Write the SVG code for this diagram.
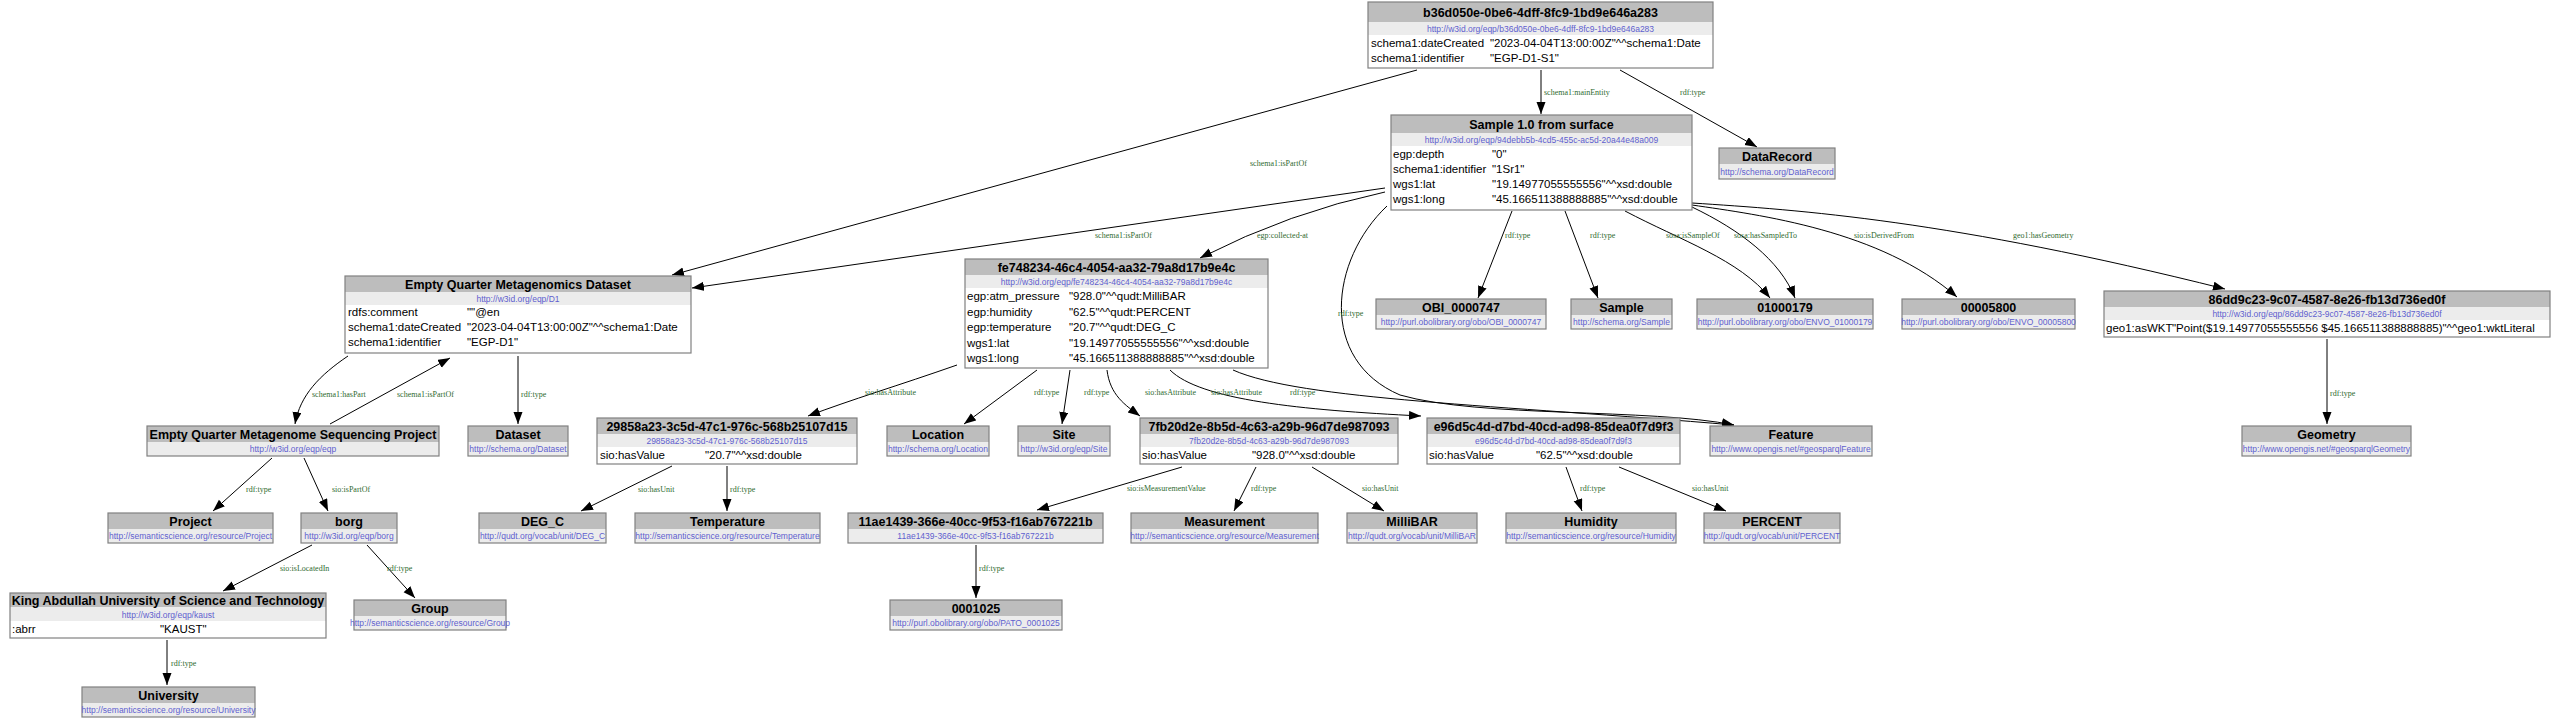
<svg xmlns="http://www.w3.org/2000/svg" width="2560" height="724" viewBox="0 0 2560 724">
<defs>
<marker id="ah" markerUnits="userSpaceOnUse" markerWidth="13" markerHeight="10" refX="12" refY="4.5" orient="auto">
<path d="M0,0 L12,4.5 L0,9 z" fill="#000"/>
</marker>
<style>
.hd{fill:#bdbdbd}
.ur{fill:#ececec}
.bd{fill:#ffffff}
.bx{fill:none;stroke:#808080;stroke-width:1.2}
.t{font-family:"Liberation Sans",Arial,sans-serif;font-weight:bold;font-size:12.5px;fill:#000;text-anchor:middle}
.u{font-family:"Liberation Sans",Arial,sans-serif;font-size:8.5px;fill:#5f5fcf;text-anchor:middle}
.r{font-family:"Liberation Sans",Arial,sans-serif;font-size:11.5px;fill:#000}
.e{fill:none;stroke:#000;stroke-width:1;marker-end:url(#ah)}
.l{font-family:"Liberation Serif","Times New Roman",serif;font-size:8px;fill:#2f6a2f}
</style>
</defs>
<rect width="2560" height="724" fill="#ffffff"/>

<g id="connectors">
<path class="e" d="M1417,70 L672,275"/>
<text class="l" x="1250" y="166">schema1:isPartOf</text>
<path class="e" d="M1541,70 L1541,114"/>
<text class="l" x="1544" y="95">schema1:mainEntity</text>
<path class="e" d="M1620,70 L1757,147"/>
<text class="l" x="1680" y="95">rdf:type</text>
<path class="e" d="M1385,188 L692,288"/>
<text class="l" x="1095" y="238">schema1:isPartOf</text>
<path class="e" d="M1385,192 Q1290,212 1200,258"/>
<text class="l" x="1257" y="238">egp:collected-at</text>
<path class="e" d="M1387,206 C1330,260 1318,360 1400,395 C1480,418 1650,408 1734,425"/>
<text class="l" x="1338" y="316">rdf:type</text>
<path class="e" d="M1512,211 L1478,298"/>
<text class="l" x="1505" y="238">rdf:type</text>
<path class="e" d="M1565,211 L1598,298"/>
<text class="l" x="1590" y="238">rdf:type</text>
<path class="e" d="M1625,211 C1680,240 1740,260 1770,298"/>
<text class="l" x="1666" y="238">sosa:isSampleOf</text>
<path class="e" d="M1692,207 C1740,230 1780,260 1795,298"/>
<text class="l" x="1734" y="238">sosa:hasSampledTo</text>
<path class="e" d="M1692,205 C1760,215 1880,230 1957,297"/>
<text class="l" x="1854" y="238">sio:isDerivedFrom</text>
<path class="e" d="M1692,203 C1800,210 1950,220 2225,289"/>
<text class="l" x="2013" y="238">geo1:hasGeometry</text>
<path class="e" d="M957,365 C900,385 850,400 808,416"/>
<text class="l" x="865" y="395">sio:hasAttribute</text>
<path class="e" d="M1037,370 L964,424"/>
<text class="l" x="1034" y="395">rdf:type</text>
<path class="e" d="M1070,370 L1062,424"/>
<text class="l" x="1084" y="395">rdf:type</text>
<path class="e" d="M1107,370 C1110,395 1125,405 1140,416"/>
<text class="l" x="1145" y="395">sio:hasAttribute</text>
<path class="e" d="M1170,370 C1200,400 1300,410 1421,416"/>
<text class="l" x="1211" y="395">sio:hasAttribute</text>
<path class="e" d="M1233,370 C1300,400 1500,405 1734,425"/>
<text class="l" x="1290" y="395">rdf:type</text>
<path class="e" d="M348,356 C320,375 300,395 295,424"/>
<text class="l" x="312" y="397">schema1:hasPart</text>
<path class="e" d="M330,424 L450,358"/>
<text class="l" x="397" y="397">schema1:isPartOf</text>
<path class="e" d="M518,356 L518,424"/>
<text class="l" x="521" y="397">rdf:type</text>
<path class="e" d="M272,458 L213,511"/>
<text class="l" x="246" y="492">rdf:type</text>
<path class="e" d="M304,458 L328,511"/>
<text class="l" x="332" y="492">sio:isPartOf</text>
<path class="e" d="M312,545 L223,591"/>
<text class="l" x="280" y="571">sio:isLocatedIn</text>
<path class="e" d="M367,545 L415,598"/>
<text class="l" x="387" y="571">rdf:type</text>
<path class="e" d="M167,640 L167,685"/>
<text class="l" x="171" y="666">rdf:type</text>
<path class="e" d="M672,466 L581,511"/>
<text class="l" x="638" y="492">sio:hasUnit</text>
<path class="e" d="M727,466 L727,511"/>
<text class="l" x="730" y="492">rdf:type</text>
<path class="e" d="M1182,467 L1037,510"/>
<text class="l" x="1127" y="491">sio:isMeasurementValue</text>
<path class="e" d="M1256,467 L1234,511"/>
<text class="l" x="1251" y="491">rdf:type</text>
<path class="e" d="M1312,467 L1384,511"/>
<text class="l" x="1362" y="491">sio:hasUnit</text>
<path class="e" d="M1566,467 L1582,511"/>
<text class="l" x="1580" y="491">rdf:type</text>
<path class="e" d="M1619,467 L1726,511"/>
<text class="l" x="1692" y="491">sio:hasUnit</text>
<path class="e" d="M976,545 L976,598"/>
<text class="l" x="979" y="571">rdf:type</text>
<path class="e" d="M2327,339 L2327,424"/>
<text class="l" x="2330" y="396">rdf:type</text>
</g>

<g id="n-b36d">
<rect class="hd" x="1368" y="2" width="345" height="20"/><rect class="ur" x="1368" y="22" width="345" height="13"/><rect class="bd" x="1368" y="35" width="345" height="33"/><rect class="bx" x="1368" y="2" width="345" height="66"/>
<text class="t" x="1540.5" y="17">b36d050e-0be6-4dff-8fc9-1bd9e646a283</text>
<text class="u" x="1540.5" y="31.5">http://w3id.org/eqp/b36d050e-0be6-4dff-8fc9-1bd9e646a283</text>
<text class="r" x="1371" y="47">schema1:dateCreated</text><text class="r" x="1490" y="47">"2023-04-04T13:00:00Z"^^schema1:Date</text>
<text class="r" x="1371" y="62">schema1:identifier</text><text class="r" x="1490" y="62">"EGP-D1-S1"</text>
</g>

<g id="n-sample">
<rect class="hd" x="1391" y="115" width="301" height="18"/><rect class="ur" x="1391" y="133" width="301" height="13"/><rect class="bd" x="1391" y="146" width="301" height="64"/><rect class="bx" x="1391" y="115" width="301" height="95"/>
<text class="t" x="1541.5" y="129">Sample 1.0 from surface</text>
<text class="u" x="1541.5" y="142.5">http://w3id.org/eqp/94debb5b-4cd5-455c-ac5d-20a44e48a009</text>
<text class="r" x="1393" y="158">egp:depth</text><text class="r" x="1492" y="158">"0"</text>
<text class="r" x="1393" y="173">schema1:identifier</text><text class="r" x="1492" y="173">"1Sr1"</text>
<text class="r" x="1393" y="188">wgs1:lat</text><text class="r" x="1492" y="188">"19.14977055555556"^^xsd:double</text>
<text class="r" x="1393" y="203">wgs1:long</text><text class="r" x="1492" y="203">"45.166511388888885"^^xsd:double</text>
</g>

<g id="n-datarecord">
<rect class="hd" x="1719" y="148" width="116" height="16"/><rect class="ur" x="1719" y="164" width="116" height="15"/><rect class="bx" x="1719" y="148" width="116" height="31"/>
<text class="t" x="1777" y="161">DataRecord</text>
<text class="u" x="1777" y="175">http://schema.org/DataRecord</text>
</g>

<g id="n-eqdataset">
<rect class="hd" x="345" y="276" width="346" height="16"/><rect class="ur" x="345" y="292" width="346" height="13"/><rect class="bd" x="345" y="305" width="346" height="48"/><rect class="bx" x="345" y="276" width="346" height="77"/>
<text class="t" x="518" y="289">Empty Quarter Metagenomics Dataset</text>
<text class="u" x="518" y="302">http://w3id.org/eqp/D1</text>
<text class="r" x="348" y="316">rdfs:comment</text><text class="r" x="467" y="316">""@en</text>
<text class="r" x="348" y="331">schema1:dateCreated</text><text class="r" x="467" y="331">"2023-04-04T13:00:00Z"^^schema1:Date</text>
<text class="r" x="348" y="346">schema1:identifier</text><text class="r" x="467" y="346">"EGP-D1"</text>
</g>

<g id="n-fe74">
<rect class="hd" x="965" y="259" width="303" height="16"/><rect class="ur" x="965" y="275" width="303" height="13"/><rect class="bd" x="965" y="288" width="303" height="80"/><rect class="bx" x="965" y="259" width="303" height="109"/>
<text class="t" x="1116.5" y="272">fe748234-46c4-4054-aa32-79a8d17b9e4c</text>
<text class="u" x="1116.5" y="285">http://w3id.org/eqp/fe748234-46c4-4054-aa32-79a8d17b9e4c</text>
<text class="r" x="967" y="300">egp:atm_pressure</text><text class="r" x="1069" y="300">"928.0"^^qudt:MilliBAR</text>
<text class="r" x="967" y="315.5">egp:humidity</text><text class="r" x="1069" y="315.5">"62.5"^^qudt:PERCENT</text>
<text class="r" x="967" y="331">egp:temperature</text><text class="r" x="1069" y="331">"20.7"^^qudt:DEG_C</text>
<text class="r" x="967" y="346.5">wgs1:lat</text><text class="r" x="1069" y="346.5">"19.14977055555556"^^xsd:double</text>
<text class="r" x="967" y="362">wgs1:long</text><text class="r" x="1069" y="362">"45.166511388888885"^^xsd:double</text>
</g>

<g id="n-obi0000747">
<rect class="hd" x="1376" y="299" width="170" height="16"/><rect class="ur" x="1376" y="315" width="170" height="14"/><rect class="bx" x="1376" y="299" width="170" height="30"/>
<text class="t" x="1461" y="312">OBI_0000747</text>
<text class="u" x="1461" y="325">http://purl.obolibrary.org/obo/OBI_0000747</text>
</g>

<g id="n-sampleclass">
<rect class="hd" x="1571" y="299" width="101" height="16"/><rect class="ur" x="1571" y="315" width="101" height="14"/><rect class="bx" x="1571" y="299" width="101" height="30"/>
<text class="t" x="1621.5" y="312">Sample</text>
<text class="u" x="1621.5" y="325">http://schema.org/Sample</text>
</g>

<g id="n-envo01000179">
<rect class="hd" x="1697" y="299" width="176" height="16"/><rect class="ur" x="1697" y="315" width="176" height="14"/><rect class="bx" x="1697" y="299" width="176" height="30"/>
<text class="t" x="1785" y="312">01000179</text>
<text class="u" x="1785" y="325">http://purl.obolibrary.org/obo/ENVO_01000179</text>
</g>

<g id="n-envo00005800">
<rect class="hd" x="1902" y="299" width="173" height="16"/><rect class="ur" x="1902" y="315" width="173" height="14"/><rect class="bx" x="1902" y="299" width="173" height="30"/>
<text class="t" x="1988.5" y="312">00005800</text>
<text class="u" x="1988.5" y="325">http://purl.obolibrary.org/obo/ENVO_00005800</text>
</g>

<g id="n-86dd">
<rect class="hd" x="2104" y="291" width="446" height="16"/><rect class="ur" x="2104" y="307" width="446" height="13"/><rect class="bd" x="2104" y="320" width="446" height="17"/><rect class="bx" x="2104" y="291" width="446" height="46"/>
<text class="t" x="2327" y="304">86dd9c23-9c07-4587-8e26-fb13d736ed0f</text>
<text class="u" x="2327" y="317">http://w3id.org/eqp/86dd9c23-9c07-4587-8e26-fb13d736ed0f</text>
<text class="r" x="2106" y="332">geo1:asWKT</text><text class="r" x="2172" y="332">"Point($19.14977055555556 $45.166511388888885)"^^geo1:wktLiteral</text>
</g>

<g id="n-eqproject">
<rect class="hd" x="147" y="426" width="292" height="16"/><rect class="ur" x="147" y="442" width="292" height="14"/><rect class="bx" x="147" y="426" width="292" height="30"/>
<text class="t" x="293" y="439">Empty Quarter Metagenome Sequencing Project</text>
<text class="u" x="293" y="452">http://w3id.org/eqp/eqp</text>
</g>

<g id="n-dataset">
<rect class="hd" x="468" y="426" width="100" height="16"/><rect class="ur" x="468" y="442" width="100" height="14"/><rect class="bx" x="468" y="426" width="100" height="30"/>
<text class="t" x="518" y="439">Dataset</text>
<text class="u" x="518" y="452">http://schema.org/Dataset</text>
</g>

<g id="n-29858">
<rect class="hd" x="597" y="418" width="260" height="16"/><rect class="ur" x="597" y="434" width="260" height="13"/><rect class="bd" x="597" y="447" width="260" height="17"/><rect class="bx" x="597" y="418" width="260" height="46"/>
<text class="t" x="727" y="431">29858a23-3c5d-47c1-976c-568b25107d15</text>
<text class="u" x="727" y="444">29858a23-3c5d-47c1-976c-568b25107d15</text>
<text class="r" x="600" y="459">sio:hasValue</text><text class="r" x="705" y="459">"20.7"^^xsd:double</text>
</g>

<g id="n-location">
<rect class="hd" x="887" y="426" width="102" height="16"/><rect class="ur" x="887" y="442" width="102" height="14"/><rect class="bx" x="887" y="426" width="102" height="30"/>
<text class="t" x="938" y="439">Location</text>
<text class="u" x="938" y="452">http://schema.org/Location</text>
</g>

<g id="n-site">
<rect class="hd" x="1018" y="426" width="92" height="16"/><rect class="ur" x="1018" y="442" width="92" height="14"/><rect class="bx" x="1018" y="426" width="92" height="30"/>
<text class="t" x="1064" y="439">Site</text>
<text class="u" x="1064" y="452">http://w3id.org/eqp/Site</text>
</g>

<g id="n-7fb2">
<rect class="hd" x="1140" y="418" width="258" height="16"/><rect class="ur" x="1140" y="434" width="258" height="13"/><rect class="bd" x="1140" y="447" width="258" height="17"/><rect class="bx" x="1140" y="418" width="258" height="46"/>
<text class="t" x="1269" y="431">7fb20d2e-8b5d-4c63-a29b-96d7de987093</text>
<text class="u" x="1269" y="444">7fb20d2e-8b5d-4c63-a29b-96d7de987093</text>
<text class="r" x="1142" y="459">sio:hasValue</text><text class="r" x="1252" y="459">"928.0"^^xsd:double</text>
</g>

<g id="n-e96d">
<rect class="hd" x="1427" y="418" width="253" height="16"/><rect class="ur" x="1427" y="434" width="253" height="13"/><rect class="bd" x="1427" y="447" width="253" height="17"/><rect class="bx" x="1427" y="418" width="253" height="46"/>
<text class="t" x="1553.5" y="431">e96d5c4d-d7bd-40cd-ad98-85dea0f7d9f3</text>
<text class="u" x="1553.5" y="444">e96d5c4d-d7bd-40cd-ad98-85dea0f7d9f3</text>
<text class="r" x="1429" y="459">sio:hasValue</text><text class="r" x="1536" y="459">"62.5"^^xsd:double</text>
</g>

<g id="n-feature">
<rect class="hd" x="1710" y="426" width="162" height="16"/><rect class="ur" x="1710" y="442" width="162" height="14"/><rect class="bx" x="1710" y="426" width="162" height="30"/>
<text class="t" x="1791" y="439">Feature</text>
<text class="u" x="1791" y="452">http://www.opengis.net/#geosparqlFeature</text>
</g>

<g id="n-geometry">
<rect class="hd" x="2242" y="426" width="169" height="16"/><rect class="ur" x="2242" y="442" width="169" height="14"/><rect class="bx" x="2242" y="426" width="169" height="30"/>
<text class="t" x="2326.5" y="439">Geometry</text>
<text class="u" x="2326.5" y="452">http://www.opengis.net/#geosparqlGeometry</text>
</g>

<g id="n-project">
<rect class="hd" x="108" y="513" width="165" height="16"/><rect class="ur" x="108" y="529" width="165" height="14"/><rect class="bx" x="108" y="513" width="165" height="30"/>
<text class="t" x="190.5" y="526">Project</text>
<text class="u" x="190.5" y="539">http://semanticscience.org/resource/Project</text>
</g>

<g id="n-borg">
<rect class="hd" x="301" y="513" width="96" height="16"/><rect class="ur" x="301" y="529" width="96" height="14"/><rect class="bx" x="301" y="513" width="96" height="30"/>
<text class="t" x="349" y="526">borg</text>
<text class="u" x="349" y="539">http://w3id.org/eqp/borg</text>
</g>

<g id="n-degc">
<rect class="hd" x="479" y="513" width="127" height="16"/><rect class="ur" x="479" y="529" width="127" height="14"/><rect class="bx" x="479" y="513" width="127" height="30"/>
<text class="t" x="542.5" y="526">DEG_C</text>
<text class="u" x="542.5" y="539">http://qudt.org/vocab/unit/DEG_C</text>
</g>

<g id="n-temperature">
<rect class="hd" x="635" y="513" width="185" height="16"/><rect class="ur" x="635" y="529" width="185" height="14"/><rect class="bx" x="635" y="513" width="185" height="30"/>
<text class="t" x="727.5" y="526">Temperature</text>
<text class="u" x="727.5" y="539">http://semanticscience.org/resource/Temperature</text>
</g>

<g id="n-11ae">
<rect class="hd" x="848" y="513" width="255" height="16"/><rect class="ur" x="848" y="529" width="255" height="14"/><rect class="bx" x="848" y="513" width="255" height="30"/>
<text class="t" x="975.5" y="526">11ae1439-366e-40cc-9f53-f16ab767221b</text>
<text class="u" x="975.5" y="539">11ae1439-366e-40cc-9f53-f16ab767221b</text>
</g>

<g id="n-measurement">
<rect class="hd" x="1131" y="513" width="187" height="16"/><rect class="ur" x="1131" y="529" width="187" height="14"/><rect class="bx" x="1131" y="513" width="187" height="30"/>
<text class="t" x="1224.5" y="526">Measurement</text>
<text class="u" x="1224.5" y="539">http://semanticscience.org/resource/Measurement</text>
</g>

<g id="n-millibar">
<rect class="hd" x="1347" y="513" width="130" height="16"/><rect class="ur" x="1347" y="529" width="130" height="14"/><rect class="bx" x="1347" y="513" width="130" height="30"/>
<text class="t" x="1412" y="526">MilliBAR</text>
<text class="u" x="1412" y="539">http://qudt.org/vocab/unit/MilliBAR</text>
</g>

<g id="n-humidity">
<rect class="hd" x="1506" y="513" width="170" height="16"/><rect class="ur" x="1506" y="529" width="170" height="14"/><rect class="bx" x="1506" y="513" width="170" height="30"/>
<text class="t" x="1591" y="526">Humidity</text>
<text class="u" x="1591" y="539">http://semanticscience.org/resource/Humidity</text>
</g>

<g id="n-percent">
<rect class="hd" x="1704" y="513" width="136" height="16"/><rect class="ur" x="1704" y="529" width="136" height="14"/><rect class="bx" x="1704" y="513" width="136" height="30"/>
<text class="t" x="1772" y="526">PERCENT</text>
<text class="u" x="1772" y="539">http://qudt.org/vocab/unit/PERCENT</text>
</g>

<g id="n-kaust">
<rect class="hd" x="10" y="593" width="316" height="14"/><rect class="ur" x="10" y="607" width="316" height="14"/><rect class="bd" x="10" y="621" width="316" height="17"/><rect class="bx" x="10" y="593" width="316" height="45"/>
<text class="t" x="168" y="605">King Abdullah University of Science and Technology</text>
<text class="u" x="168" y="618">http://w3id.org/eqp/kaust</text>
<text class="r" x="12" y="633">:abrr</text><text class="r" x="160" y="633">"KAUST"</text>
</g>

<g id="n-group">
<rect class="hd" x="354" y="600" width="152" height="16"/><rect class="ur" x="354" y="616" width="152" height="14"/><rect class="bx" x="354" y="600" width="152" height="30"/>
<text class="t" x="430" y="613">Group</text>
<text class="u" x="430" y="626">http://semanticscience.org/resource/Group</text>
</g>

<g id="n-pato0001025">
<rect class="hd" x="890" y="600" width="172" height="16"/><rect class="ur" x="890" y="616" width="172" height="14"/><rect class="bx" x="890" y="600" width="172" height="30"/>
<text class="t" x="976" y="613">0001025</text>
<text class="u" x="976" y="626">http://purl.obolibrary.org/obo/PATO_0001025</text>
</g>

<g id="n-university">
<rect class="hd" x="82" y="687" width="173" height="16"/><rect class="ur" x="82" y="703" width="173" height="14"/><rect class="bx" x="82" y="687" width="173" height="30"/>
<text class="t" x="168.5" y="700">University</text>
<text class="u" x="168.5" y="713">http://semanticscience.org/resource/University</text>
</g>
</svg>
